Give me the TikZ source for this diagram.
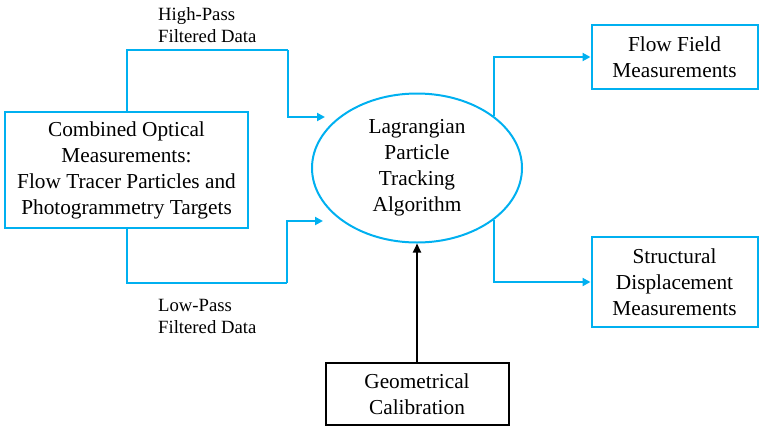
\documentclass[tikz,border=0pt]{standalone}
\usepackage{fontspec}
\setmainfont{Liberation Serif}
\usetikzlibrary{arrows.meta,shapes.geometric}
\definecolor{lblue}{HTML}{00B0F0}
\begin{document}
\begin{tikzpicture}[x=1pt,y=-1pt,
  bigtext/.style={font=\fontsize{21.3}{26}\selectfont, align=center},
  smalltext/.style={font=\fontsize{18.7}{22}\selectfont, align=left, anchor=north west, inner sep=0pt},
  bluebox/.style={draw=lblue, line width=2pt, fill=white, bigtext, inner sep=0pt},
  blackbox/.style={draw=black, line width=2pt, fill=white, bigtext, inner sep=0pt},
  bluearrow/.style={draw=lblue, line width=2pt, -{Triangle[length=8pt,width=8pt]}},
  bluewire/.style={draw=lblue, line width=2pt},
  blackarrow/.style={draw=black, line width=2pt, -{Triangle[length=9pt,width=8pt]}}]
\useasboundingbox (0,0) rectangle (762,426);

\node[bluebox, minimum width=243pt, minimum height=116pt] (src) at (126.5,170)
  {Combined Optical\\Measurements:\\Flow Tracer Particles and\\Photogrammetry Targets};

\node[draw=lblue, line width=2pt, ellipse, bigtext, inner sep=0pt,
      minimum width=210pt, minimum height=149pt] (ell) at (417,168)
  {Lagrangian\\Particle\\Tracking\\Algorithm};

\node[bluebox, minimum width=166pt, minimum height=64pt] (flow) at (674.5,57)
  {Flow Field\\Measurements};
\node[bluebox, minimum width=166pt, minimum height=90pt] (struct) at (674.5,282)
  {Structural\\Displacement\\Measurements};
\node[blackbox, minimum width=183pt, minimum height=62pt] (geo) at (417,394)
  {Geometrical\\Calibration};

\node[smalltext] (hp) at (158,7) {High-Pass\\Filtered Data};
\node[smalltext] (lp) at (158,299) {Low-Pass\\Filtered Data};

\coordinate (hpturn) at (288,50);
\coordinate (hpend) at (325,117);
\coordinate (lpturn) at (287,283);
\coordinate (lpend) at (323,221);

\draw[bluewire] (src.north) |- (hpturn);
\draw[bluearrow] (hpturn) |- (hpend);
\draw[bluewire] (src.south) |- (lpturn);
\draw[bluearrow] (lpturn) |- (lpend);

\draw[bluearrow] (ell.34) |- (flow.west);
\draw[bluearrow] (ell.-34) |- (struct.west);

\draw[blackarrow] (geo.north) -- (ell.south);
\end{tikzpicture}
\end{document}
